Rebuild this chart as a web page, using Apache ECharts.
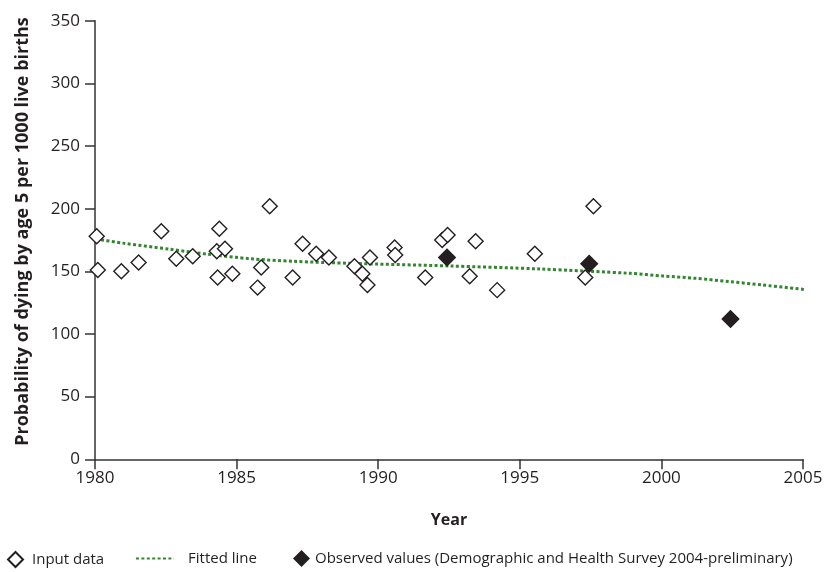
<!DOCTYPE html>
<html><head><meta charset="utf-8">
<script src="https://cdn.jsdelivr.net/npm/echarts@6/dist/echarts.min.js"></script>
<style>html,body{margin:0;padding:0;background:#fff}#c{width:831px;height:572px}</style>
</head><body><div id="c"></div>
<script>
const inputYears = [1980.06,1980.1,1980.93,1981.54,1982.34,1982.87,1983.45,1984.39,1984.3,1984.59,1984.33,1984.85,1986.17,1985.87,1985.74,1987.33,1987.81,1988.26,1986.98,1989.16,1989.44,1989.62,1989.71,1990.58,1990.6,1991.66,1992.26,1992.45,1993.44,1993.23,1994.2,1995.53,1997.6,1997.31];
const inputValues = [178,151,150,157,182,160,162,184,166,168,145,148,202,153,137,172,164,161,145,154,148,139,161,169,163,145,175,179,174,146,135,164,202,145];
const observedYears = [1992.43,1997.45,2002.44];
const observedValues = [161,156,112];
const fittedYears = [1979.65,1981,1982.65,1984,1985.5,1987,1989,1992.5,1995.7,1998.9,2000.05,2001.22,2002.4,2003.57,2005.22];
const fittedValues = [177.2,172.5,167.6,163.6,160,158,156.4,154.3,151.9,148.4,146.3,144.4,141.8,139.1,135.1];
const yTicks = [0,50,100,150,200,250,300,350];
const xTicks = [1980,1985,1990,1995,2000,2005];
const legendNames = ['Input data','Fitted line','Observed values (Demographic and Health Survey 2004-preliminary)'];

const font = '"Open Sans", "Noto Sans", sans-serif';
const txt = '#231f20';
const green = '#338530';
const chart = echarts.init(document.getElementById('c'), null, {renderer:'canvas'});
const zip = (a,b)=>a.map((v,i)=>[v,b[i]]);
chart.setOption({
  animation:false,
  backgroundColor:'#fff',
  grid:{left:95,right:28,top:20.7,bottom:112.7,containLabel:false},
  xAxis:{type:'value',min:xTicks[0],max:xTicks[xTicks.length-1],interval:5,
    name:'Year',nameLocation:'middle',nameGap:53,
    nameTextStyle:{fontFamily:font,fontWeight:'bold',fontSize:16,color:txt},
    axisLine:{lineStyle:{color:'#333',width:1.5}},
    axisTick:{show:true,length:10,lineStyle:{color:'#333',width:1.5}},
    axisLabel:{margin:10,fontFamily:font,fontSize:17,color:txt,formatter:v=>String(v)},
    splitLine:{show:false}},
  yAxis:{type:'value',min:yTicks[0],max:yTicks[yTicks.length-1],interval:50,
    name:'Probability of dying by age 5 per 1000 live births',nameLocation:'middle',nameGap:63,
    nameTextStyle:{fontFamily:font,fontWeight:'bold',fontSize:18,color:txt,padding:[0,0,0,17]},
    axisLine:{show:true,lineStyle:{color:'#333',width:1.5}},
    axisTick:{show:true,length:10,lineStyle:{color:'#333',width:1.5}},
    axisLabel:{margin:15,fontFamily:font,fontSize:17,color:txt,formatter:v=>String(v)},
    splitLine:{show:false}},
  legend:[
    {left:2,top:546,padding:5,itemWidth:15,itemHeight:15,data:[{name:legendNames[0],icon:'diamond'}],
     textStyle:{fontFamily:font,fontSize:15,color:txt,padding:[0,0,0,4]}},
    {left:130,top:546,padding:5,itemWidth:38,itemHeight:15,
     data:[{name:legendNames[1],itemStyle:{opacity:0}}],
     textStyle:{fontFamily:font,fontSize:15,color:txt,padding:[0,0,0,9]}},
    {left:288,top:545,padding:5,itemWidth:17,itemHeight:17,data:[{name:legendNames[2],icon:'diamond'}],
     textStyle:{fontFamily:font,fontSize:15,color:txt}}
  ],
  series:[
    {name:legendNames[1],type:'line',data:zip(fittedYears,fittedValues),smooth:0.3,showSymbol:false,symbol:'none',clip:false,
     lineStyle:{color:green,width:3,type:[3,2.4],cap:'butt'},itemStyle:{color:green},z:2},
    {name:legendNames[0],type:'scatter',data:zip(inputYears,inputValues),symbol:'diamond',symbolSize:15,
     itemStyle:{color:'#fff',borderColor:'#231f20',borderWidth:1.4,opacity:1},z:3},
    {name:legendNames[2],type:'scatter',data:zip(observedYears,observedValues),symbol:'diamond',symbolSize:18.5,
     itemStyle:{color:'#231f20',borderColor:'#231f20',borderWidth:0,opacity:1},z:4}
  ]
});
</script></body></html>
